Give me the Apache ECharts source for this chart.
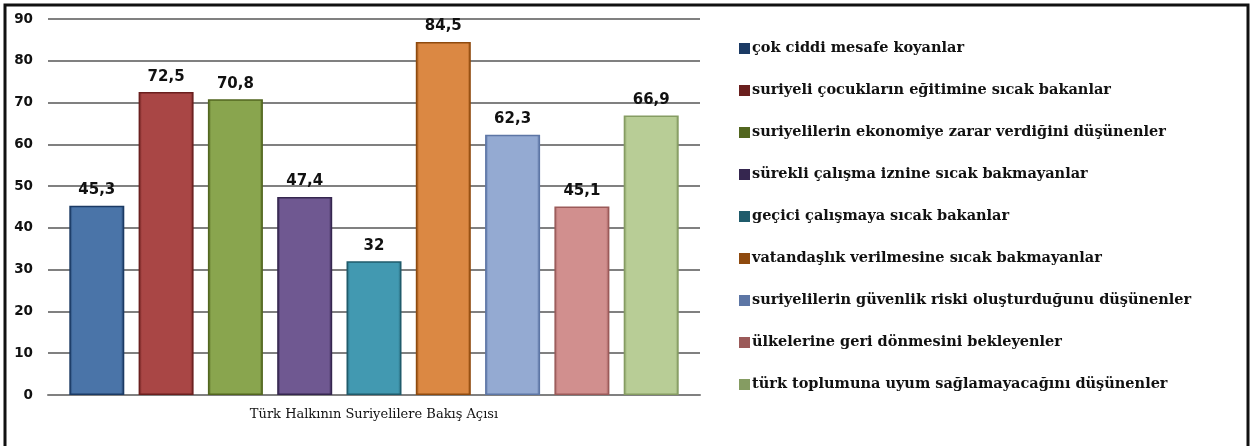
<!DOCTYPE html>
<html>
<head>
<meta charset="utf-8">
<script src="https://cdn.jsdelivr.net/npm/echarts@6/dist/echarts.min.js"></script>
<style>
  html, body { margin: 0; padding: 0; background: #fff; }
  #chart { width: 1254px; height: 446px; }
</style>
</head>
<body>
<div id="chart"></div>
<script>
// veriler
const category = ['Türk Halkının Suriyelilere Bakış Açısı']
const seriesNames = [
  'çok ciddi mesafe koyanlar',
  'suriyeli çocukların eğitimine sıcak bakanlar',
  'suriyelilerin ekonomiye zarar verdiğini düşünenler',
  'sürekli çalışma iznine sıcak bakmayanlar',
  'geçici çalışmaya sıcak bakanlar',
  'vatandaşlık verilmesine sıcak bakmayanlar',
  'suriyelilerin güvenlik riski oluşturduğunu düşünenler',
  'ülkelerine geri dönmesini bekleyenler',
  'türk toplumuna uyum sağlamayacağını düşünenler'
]
const values = [45.3, 72.5, 70.8, 47.4, 32, 84.5, 62.3, 45.1, 66.9]
const yTicks = [0, 10, 20, 30, 40, 50, 60, 70, 80, 90]

// renkler (dolgu / kenar)
const fillColors = ['#4a74a8', '#a94645', '#89a54e', '#6f5891', '#4299b1', '#db8843', '#94aad2', '#d18f8e', '#b8cd96']
const edgeColors = ['#1b3a64', '#6a1f1e', '#52661f', '#35264f', '#1f5b6b', '#8f4a0e', '#5d76a5', '#9b5a59', '#859c62']

let myChart = echarts.init(document.getElementById('chart'))

let series = seriesNames.map((name, i) => {
  return {
    name: name,
    type: 'bar',
    barWidth: 55,
    barGap: '26%',
    data: [values[i]],
    itemStyle: {
      color: new echarts.graphic.LinearGradient(0, 0, 1, 0, [
        { offset: 0, color: edgeColors[i] },
        { offset: 0.06, color: fillColors[i] },
        { offset: 0.94, color: fillColors[i] },
        { offset: 1, color: edgeColors[i] }
      ]),
      borderColor: edgeColors[i],
      borderWidth: 1.5
    },
    label: {
      show: true,
      position: 'top',
      distance: 8,
      formatter: (p) => String(p.value).replace('.', ','),
      fontFamily: 'DejaVu Sans',
      fontWeight: 'bold',
      fontSize: 15,
      color: '#111'
    }
  }
})

let option = {
  animation: false,
  color: edgeColors,
  grid: {
    left: 48,
    right: 554,
    top: 19,
    bottom: 51
  },
  legend: {
    orient: 'vertical',
    left: 734,
    top: 33,
    itemWidth: 9,
    itemHeight: 9,
    itemGap: 21,
    icon: 'rect',
    data: seriesNames.map((n, i) => ({ name: n, itemStyle: { color: edgeColors[i] } })),
    textStyle: {
      fontFamily: 'DejaVu Serif',
      fontWeight: 'bold',
      fontSize: 14.5,
      lineHeight: 21,
      color: '#111',
      padding: [0, 0, 0, -2]
    }
  },
  graphic: [
    {
      type: 'rect',
      shape: { x: 5, y: 5, width: 1243, height: 460 },
      style: { fill: 'none', stroke: '#111', lineWidth: 3 },
      silent: true
    }
  ],
  xAxis: {
    type: 'category',
    data: category,
    axisTick: { show: false },
    axisLine: { lineStyle: { color: '#808080', width: 2 } },
    axisLabel: {
      margin: 13,
      fontFamily: 'DejaVu Serif',
      fontSize: 13,
      color: '#111'
    }
  },
  yAxis: {
    type: 'value',
    min: yTicks[0],
    max: yTicks[yTicks.length - 1],
    interval: 10,
    axisLine: { show: false },
    axisTick: { show: false },
    axisLabel: {
      margin: 15,
      fontFamily: 'DejaVu Sans',
      fontWeight: 'bold',
      fontSize: 13.5,
      color: '#111'
    },
    splitLine: { lineStyle: { color: '#808080', width: 2 } }
  },
  series: series
}
myChart.setOption(option)
</script>
</body>
</html>
